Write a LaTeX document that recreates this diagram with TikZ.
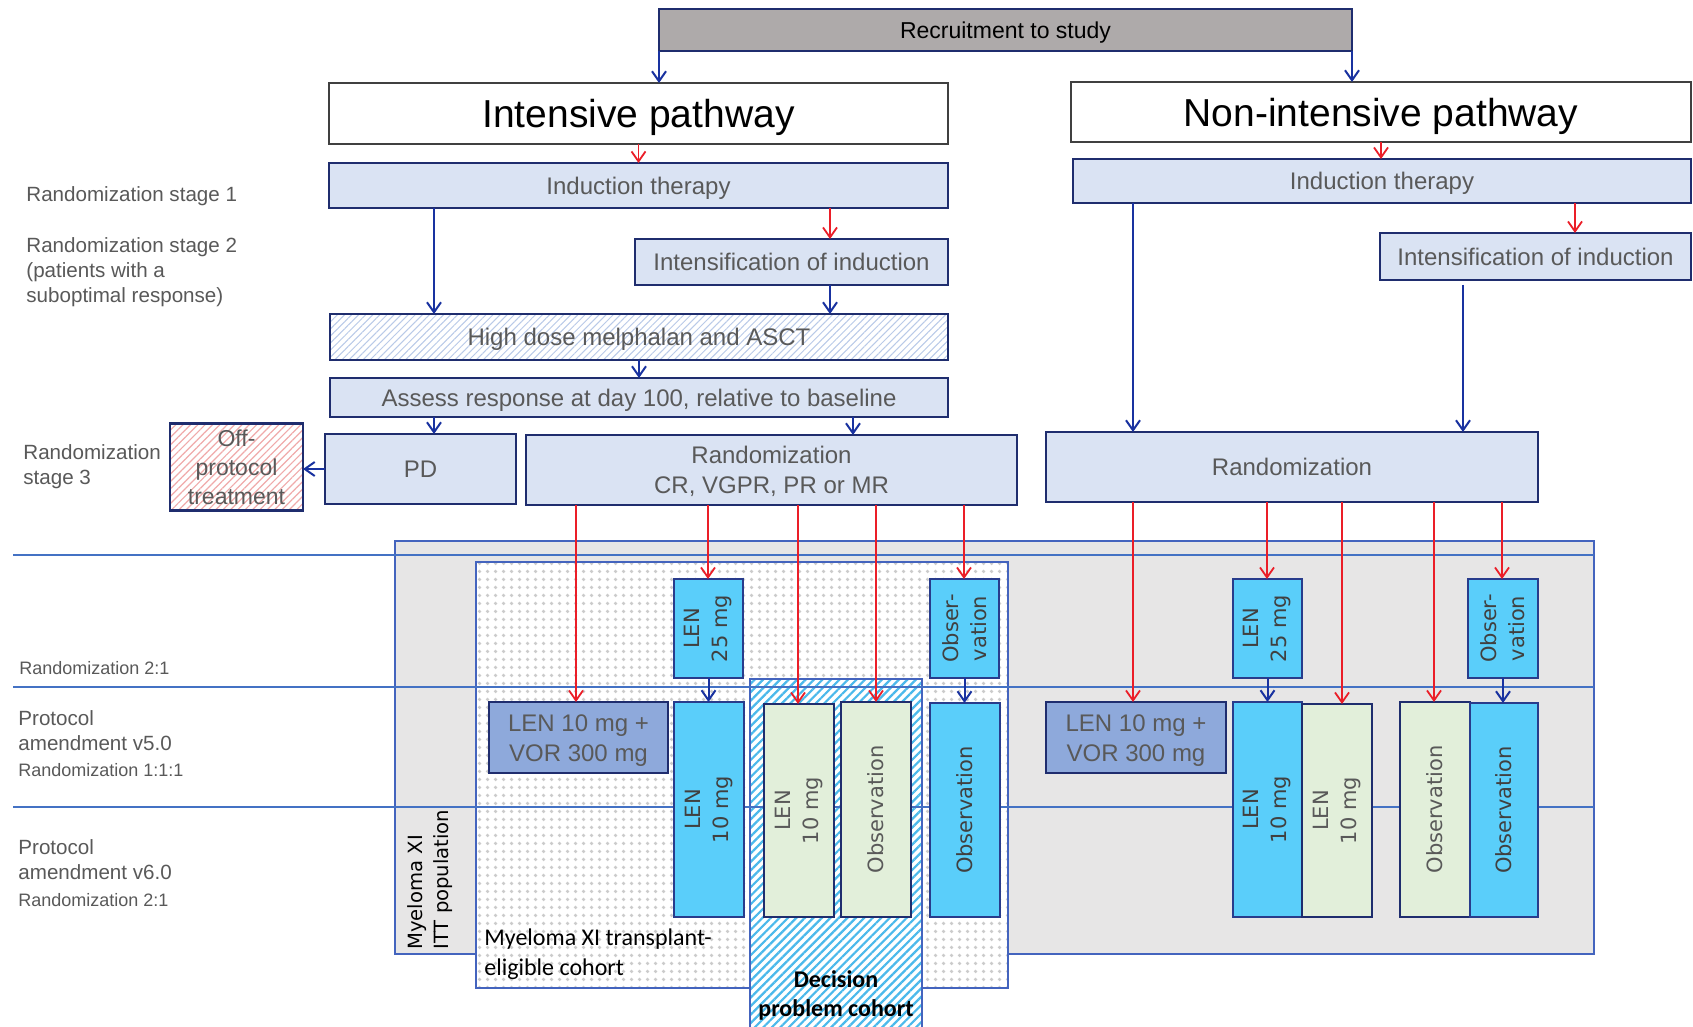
\documentclass[tikz,border=0pt]{standalone}
\usepackage{fontspec}
\setmainfont{Liberation Sans}
\newfontfamily\dvs{DejaVu Sans}
\newfontfamily\carl{Carlito}
\usetikzlibrary{arrows.meta,patterns.meta}
\definecolor{navy}{RGB}{31,45,110}
\definecolor{navytwo}{RGB}{40,60,140}
\definecolor{txtgray}{RGB}{89,89,89}
\definecolor{darktxt}{RGB}{64,64,64}
\definecolor{lblue}{RGB}{218,227,243}
\definecolor{recgray}{RGB}{174,170,170}
\definecolor{cyanf}{RGB}{90,206,250}
\definecolor{greenf}{RGB}{226,239,218}
\definecolor{lvf}{RGB}{142,169,219}
\definecolor{ittgray}{RGB}{231,230,230}
\definecolor{bordblue}{RGB}{68,100,190}
\definecolor{hlinecol}{RGB}{68,114,196}
\definecolor{hatchblue}{RGB}{185,202,232}
\definecolor{lightred}{RGB}{240,170,170}
\definecolor{hatchcyan}{RGB}{75,185,235}
\definecolor{dotgray}{RGB}{203,203,203}
\definecolor{arrblue}{RGB}{25,50,160}
\definecolor{arrred}{RGB}{235,30,40}
\definecolor{pathborder}{RGB}{64,64,64}
\newcommand\fs[2]{\fontsize{#1}{#2}\selectfont}
\newcommand\mybox[7]{\node[#6,minimum width={(#4-#2)*0.5pt},minimum height={(#5-#3)*0.5pt}] (#1) at ({(#2+#4)/2},{(#3+#5)/2}) {\raisebox{-0.12em}[\height][\depth]{\begin{tabular}{@{}c@{}}#7\end{tabular}}};}
\newcommand\myarea[6]{\node[#6,minimum width={(#4-#2)*0.5pt},minimum height={(#5-#3)*0.5pt}] (#1) at ({(#2+#4)/2},{(#3+#5)/2}) {};}
\tikzset{
 base/.style={inner sep=0pt, outer sep=0pt, align=center, font=\fs{12}{15}, text=txtgray},
 lbox/.style={base, fill=lblue, draw=navy, line width=1.3pt},
 recbox/.style={base, fill=recgray, draw=navy, line width=1pt, text=black, font=\fs{11.5}{14}},
 pathbox/.style={base, fill=white, draw=pathborder, line width=1pt, text=black, font=\fs{19.5}{24}},
 hbox/.style={base, draw=navy, line width=1.3pt, preaction={fill=white}, pattern={Lines[angle=45,distance=2.5pt,line width=0.5pt]}, pattern color=hatchblue},
 offbox/.style={base, draw=navy, line width=1.3pt, preaction={fill=white}, pattern={Lines[angle=45,distance=2.6pt,line width=0.6pt]}, pattern color=lightred, font=\fs{11.5}{14.5}},
 ittbox/.style={base, fill=ittgray, draw=bordblue, line width=1pt},
 tecbox/.style={base, draw=bordblue, line width=1pt, preaction={fill=white}, pattern={Dots[distance=4pt,radius=1.05pt]}, pattern color=dotgray},
 dpcbox/.style={base, preaction={fill=white}, pattern={Lines[angle=45,distance=3pt,line width=1.1pt]}, pattern color=hatchcyan},
 cybox/.style={base, fill=cyanf, draw=navytwo, line width=1pt},
 grbox/.style={base, fill=greenf, draw=navy, line width=1.3pt},
 lvbox/.style={base, fill=lvf, draw=navy, line width=1pt},
 rtext/.style={rotate=90, align=center, inner sep=0pt, font=\dvs\fs{10.5}{14}, text=darktxt},
 lab/.style={inner sep=0pt, align=left, anchor=west, text=txtgray, font=\fs{10.3}{12.5}},
 labs/.style={inner sep=0pt, align=left, anchor=west, text=txtgray, font=\fs{9}{11}},
 barr/.style={draw=arrblue, line width=1pt, -{Straight Barb[length=5pt,width=7pt]}},
 rarr/.style={draw=arrred, line width=0.9pt, -{Straight Barb[length=5pt,width=7pt]}},
 hline/.style={draw=hlinecol, line width=1pt}
}
\begin{document}
\begin{tikzpicture}[x=0.5pt,y=-0.5pt]
\useasboundingbox (0,0) rectangle (1693,1027);
\fill[white] (0,0) rectangle (1693,1027);
% upper flow
\mybox{recruit}{659}{9}{1352}{51}{recbox}{Recruitment to study}
\mybox{intp}{329}{83}{948}{144}{pathbox}{Intensive pathway}
\mybox{nonp}{1071}{82}{1691}{142}{pathbox}{Non-intensive pathway}
\mybox{indA}{329}{163}{948}{208}{lbox}{Induction therapy}
\mybox{indB}{1073}{159}{1691}{203}{lbox}{Induction therapy}
\mybox{intfA}{635}{239}{948}{285}{lbox}{Intensification of induction}
\mybox{intfB}{1380}{233}{1691}{280}{lbox}{Intensification of induction}
\mybox{hdm}{330}{314}{948}{360}{hbox}{High dose melphalan and ASCT}
\mybox{assess}{330}{378}{948}{417}{lbox}{Assess response at day 100, relative to baseline}
\mybox{pd}{325}{434}{516}{504}{lbox}{PD}
\mybox{randA}{526}{435}{1017}{505}{lbox}{Randomization\\CR, VGPR, PR or MR}
\mybox{off}{170}{424}{303}{510}{offbox}{Off-\\protocol\\treatment}
\mybox{randB}{1046}{432}{1538}{502}{lbox}{Randomization}
% left labels
\node[lab] (ls1) at (26,196) {Randomization stage 1};
\node[lab] (ls2) at (26,272) {Randomization stage 2\\(patients with a\\suboptimal response)};
\node[lab] (ls3) at (23,467) {Randomization\\stage 3};
\node[labs] (lr21a) at (19,668) {Randomization 2:1};
\node[lab] (pa5) at (18,731) {Protocol\\amendment v5.0};
\node[labs] (lr111) at (18,770) {Randomization 1:1:1};
\node[lab] (pa6) at (18,860) {Protocol\\amendment v6.0};
\node[labs] (lr21b) at (18,900) {Randomization 2:1};
% lower background areas
\myarea{itt}{395}{541}{1594}{954}{ittbox}
\myarea{tec}{476}{562}{1008}{988}{tecbox}
\myarea{dpc}{750}{679}{922}{1027}{dpcbox}
\draw[draw=bordblue, line width=1pt] (dpc.south west) -- (dpc.north west) -- (dpc.north east) -- (dpc.south east);
\draw[hline] (13,555) -- (1594,555);
\draw[hline] (13,687) -- (1594,687);
\draw[hline] (13,807) -- (1594,807);
\node[rotate=90, anchor=west, align=left, inner sep=0pt, font=\dvs\fs{9.8}{13}, text=black] (ittl) at (430,950) {Myeloma XI\\ITT population};
\node[anchor=west, align=left, inner sep=0pt, font=\carl\fs{12}{15}, text=black] (tecl) at (484,954) {Myeloma XI transplant-\\eligible cohort};
\node[align=center, inner sep=0pt, font=\carl\bfseries\fs{12}{14.5}, text=black] (dpcl) at (836,995) {Decision\\problem cohort};
% treatment boxes, intensive
\mybox{lvA}{489}{702}{668}{773}{lvbox}{LEN 10 mg +\\VOR 300 mg}
\myarea{l25A}{674}{579}{743}{678}{cybox}
\myarea{obsvA}{930}{579}{999}{678}{cybox}
\myarea{l10A}{674}{702}{744}{917}{cybox}
\myarea{g10A}{764}{704}{834}{917}{grbox}
\myarea{goA}{841}{702}{911}{917}{grbox}
\myarea{coA}{930}{703}{1000}{917}{cybox}
% treatment boxes, non-intensive
\mybox{lvB}{1046}{702}{1226}{773}{lvbox}{LEN 10 mg +\\VOR 300 mg}
\myarea{l25B}{1233}{579}{1302}{678}{cybox}
\myarea{obsvB}{1468}{579}{1538}{678}{cybox}
\myarea{l10B}{1233}{702}{1302}{917}{cybox}
\myarea{g10B}{1302}{704}{1372}{917}{grbox}
\myarea{goB}{1400}{702}{1470}{917}{grbox}
\myarea{coB}{1470}{703}{1538}{917}{cybox}
% rotated texts
\node[rtext] (t1) at (l25A) {LEN\\25 mg};
\node[rtext] (t2) at (obsvA) {Obser-\\vation};
\node[rtext] (t3) at (l10A) {LEN\\10 mg};
\node[rtext, text=txtgray] (t4) at (g10A) {LEN\\10 mg};
\node[rtext, text=txtgray] (t5) at (goA) {Observation};
\node[rtext] (t6) at (coA) {Observation};
\node[rtext] (t7) at (l25B) {LEN\\25 mg};
\node[rtext] (t8) at (obsvB) {Obser-\\vation};
\node[rtext] (t9) at (l10B) {LEN\\10 mg};
\node[rtext, text=txtgray] (t10) at (g10B) {LEN\\10 mg};
\node[rtext, text=txtgray] (t11) at (goB) {Observation};
\node[rtext] (t12) at (coB) {Observation};
% arrows upper
\draw[barr] (recruit.south west) -- (recruit.south west |- intp.north);
\draw[barr] (recruit.south east) -- (recruit.south east |- nonp.north);
\draw[rarr] (intp.south) -- (indA.north);
\draw[rarr] (nonp.south) -- (nonp.south |- indB.north);
\draw[barr] (434,0 |- indA.south) -- (434,0 |- hdm.north);
\draw[rarr] (830,0 |- indA.south) -- (830,0 |- intfA.north);
\draw[barr] (830,0 |- intfA.south) -- (830,0 |- hdm.north);
\draw[barr] (hdm.south) -- (hdm.south |- assess.north);
\draw[barr] (434,0 |- assess.south) -- (434,0 |- pd.north);
\draw[barr] (853,0 |- assess.south) -- (853,0 |- randA.north);
\draw[barr] (pd.west) -- (pd.west -| off.east);
\draw[barr] (1133,0 |- indB.south) -- (1133,0 |- randB.north);
\draw[rarr] (1575,0 |- indB.south) -- (1575,0 |- intfB.north);
\draw[barr] (1463,0 |- intfB.south) ++(0,5) -- (1463,0 |- randB.north);
% arrows lower, intensive
\draw[rarr] (576,0 |- randA.south) -- (576,0 |- lvA.north);
\draw[rarr] (708,0 |- randA.south) -- (708,0 |- l25A.north);
\draw[rarr] (798,0 |- randA.south) -- (798,0 |- g10A.north);
\draw[rarr] (876,0 |- randA.south) -- (876,0 |- goA.north);
\draw[rarr] (964,0 |- randA.south) -- (964,0 |- obsvA.north);
\draw[barr] (l25A.south) -- (l25A.south |- l10A.north);
\draw[barr] (obsvA.south) -- (obsvA.south |- coA.north);
% arrows lower, non-intensive
\draw[rarr] (1133,0 |- randB.south) -- (1133,0 |- lvB.north);
\draw[rarr] (1267,0 |- randB.south) -- (1267,0 |- l25B.north);
\draw[rarr] (1342,0 |- randB.south) -- (1342,0 |- g10B.north);
\draw[rarr] (1434,0 |- randB.south) -- (1434,0 |- goB.north);
\draw[rarr] (1502,0 |- randB.south) -- (1502,0 |- obsvB.north);
\draw[barr] (l25B.south) -- (l25B.south |- l10B.north);
\draw[barr] (obsvB.south) -- (obsvB.south |- coB.north);
\end{tikzpicture}
\end{document}
